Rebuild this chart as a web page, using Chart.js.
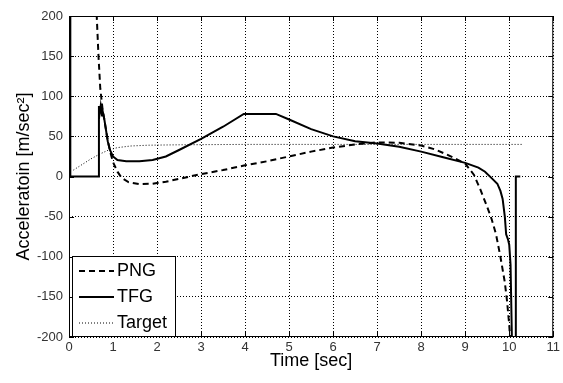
<!DOCTYPE html>
<html lang="en">
<head>
  <meta charset="UTF-8" />
  <title>Acceleration vs Time</title>
  <script src="https://cdn.jsdelivr.net/npm/chart.js"></script>
  <style>
    body { margin: 0; background: #fff; }
    #wrap { width: 563px; height: 383px; }
  </style>
</head>
<body>
  <div id="wrap"><canvas id="accChart" width="563" height="383"></canvas></div>

  <script>
    // values
    const pngTime  = [0.60, 0.63, 0.67, 0.71, 0.76, 0.82, 0.88, 0.94, 1.00, 1.10, 1.20, 1.35, 1.60, 1.90, 2.20, 2.50, 3.00, 3.50, 4.00, 4.50, 5.00, 5.50, 6.00, 6.50, 7.00, 7.50, 8.00, 8.30, 8.60, 9.00, 9.20, 9.35, 9.50, 9.60, 9.70, 9.80, 9.90, 9.95, 10.00, 10.03];
    const pngAccel = [240, 200, 150, 110, 85, 65, 45, 30, 18, 6, -2, -7, -9.5, -9, -6.5, -3, 3, 8, 14, 19, 25, 31, 36, 40, 42.5, 42, 38.5, 34, 27, 16, 2, -17, -38, -53, -72, -100, -132, -155, -185, -210];

    const tfgTime  = [0.03, 0.03, 0.68, 0.68, 0.70, 0.72, 0.75, 0.77, 0.80, 0.84, 0.88, 0.93, 1.00, 1.10, 1.30, 1.60, 1.90, 2.20, 2.50, 3.00, 3.50, 3.97, 4.70, 5.00, 5.50, 6.00, 6.50, 7.00, 7.50, 8.00, 8.50, 9.00, 9.30, 9.45, 9.60, 9.73, 9.80, 9.85, 9.90, 9.93, 9.97, 10.00, 10.03, 10.06, 10.15, 10.15, 10.25];
    const tfgAccel = [200, 0, 0, 88, 80, 88, 76, 80, 72, 58, 44, 33, 25, 20.5, 19, 19, 20.5, 25, 33, 47, 62, 78, 78, 71, 59, 50, 44, 41, 37, 31, 24, 17, 11, 6, -2, -9, -18, -28, -50, -72, -78, -85, -110, -200, -200, 0, 0];

    const targetTime  = [0.10, 0.30, 0.50, 0.70, 0.90, 1.10, 1.40, 1.80, 2.50, 4.00, 6.00, 8.00, 10.30];
    const targetAccel = [8, 15, 22, 28, 33, 36, 38, 39, 39.5, 40, 40, 40, 40];

    const xTickValues = [0, 1, 2, 3, 4, 5, 6, 7, 8, 9, 10, 11];
    const yTickValues = [-200, -150, -100, -50, 0, 50, 100, 150, 200];

    const toPoints = (xs, ys) => xs.map((x, i) => ({ x: x, y: ys[i] }));
    const FONT = "'Liberation Sans', Arial, sans-serif";

    // box round the plot with MATLAB-style inward ticks, then the legend
    const framePlugin = {
      id: 'frame',
      afterDraw(chart) {
        const { ctx, chartArea: a, scales } = chart;
        ctx.save();
        ctx.strokeStyle = '#000';
        ctx.lineWidth = 1;
        ctx.setLineDash([]);
        ctx.strokeRect(a.left + 0.5, a.top + 0.5, a.right - a.left - 1, a.bottom - a.top - 1);
        ctx.beginPath();
        xTickValues.forEach(v => {
          const px = Math.round(scales.x.getPixelForValue(v)) + 0.5;
          ctx.moveTo(px, a.bottom); ctx.lineTo(px, a.bottom - 5);
          ctx.moveTo(px, a.top); ctx.lineTo(px, a.top + 5);
        });
        yTickValues.forEach(v => {
          const py = Math.round(scales.y.getPixelForValue(v)) + 0.5;
          ctx.moveTo(a.left, py); ctx.lineTo(a.left + 5, py);
          ctx.moveTo(a.right, py); ctx.lineTo(a.right - 5, py);
        });
        ctx.stroke();

        // legend box, bottom left inside the plot
        const bx = a.left + 3, bw = 104, bh = 81, by = a.bottom - bh;
        ctx.fillStyle = '#fff';
        ctx.fillRect(bx, by, bw, bh);
        ctx.strokeRect(bx + 0.5, by + 0.5, bw - 1, bh - 1);
        ctx.font = '18px ' + FONT;
        ctx.textBaseline = 'middle';
        ctx.fillStyle = '#000';
        chart.data.datasets.forEach((ds, i) => {
          const ry = by + 15 + i * 26;
          ctx.beginPath();
          ctx.lineWidth = ds.borderWidth;
          ctx.setLineDash(ds.borderDash || []);
          ctx.moveTo(bx + 7, ry); ctx.lineTo(bx + 42, ry);
          ctx.stroke();
          ctx.setLineDash([]);
          ctx.fillText(ds.label, bx + 45, ry);
        });
        ctx.restore();
      }
    };

    new Chart(document.getElementById('accChart'), {
      type: 'line',
      data: {
        datasets: [
          { label: 'PNG', data: toPoints(pngTime, pngAccel), borderColor: '#000', borderWidth: 2, borderDash: [6, 4] },
          { label: 'TFG', data: toPoints(tfgTime, tfgAccel), borderColor: '#000', borderWidth: 2 },
          { label: 'Target', data: toPoints(targetTime, targetAccel), borderColor: '#000', borderWidth: 1, borderDash: [1, 2] }
        ]
      },
      options: {
        responsive: false,
        animation: false,
        elements: { point: { radius: 0 }, line: { tension: 0, borderCapStyle: 'butt' } },
        layout: { padding: { top: 16, right: 7, left: 0, bottom: 0 } },
        plugins: { legend: { display: false }, tooltip: { enabled: false } },
        scales: {
          x: {
            type: 'linear', min: 0, max: 11,
            afterBuildTicks: s => { s.ticks = xTickValues.map(v => ({ value: v })); },
            afterFit: s => { s.height = 46; },
            grid: { color: '#000', lineWidth: 1, drawTicks: false },
            border: { display: false, dash: [1, 2] },
            ticks: { color: '#333', padding: 3, font: { family: FONT, size: 13 }, maxRotation: 0 },
            title: { display: true, text: 'Time [sec]', color: '#000', font: { family: FONT, size: 18 }, padding: { top: 0, bottom: 11 } }
          },
          y: {
            min: -200, max: 200,
            afterBuildTicks: s => { s.ticks = yTickValues.map(v => ({ value: v })); },
            afterFit: s => { s.width = 69; },
            grid: { color: '#000', lineWidth: 1, drawTicks: false },
            border: { display: false, dash: [1, 2] },
            ticks: { color: '#333', padding: 6, font: { family: FONT, size: 13 } },
            title: { display: true, text: 'Acceleratoin [m/sec\u00b2]', color: '#000', font: { family: FONT, size: 18 }, padding: { top: 13, bottom: 0 } }
          }
        }
      },
      plugins: [framePlugin]
    });
  </script>
</body>
</html>
